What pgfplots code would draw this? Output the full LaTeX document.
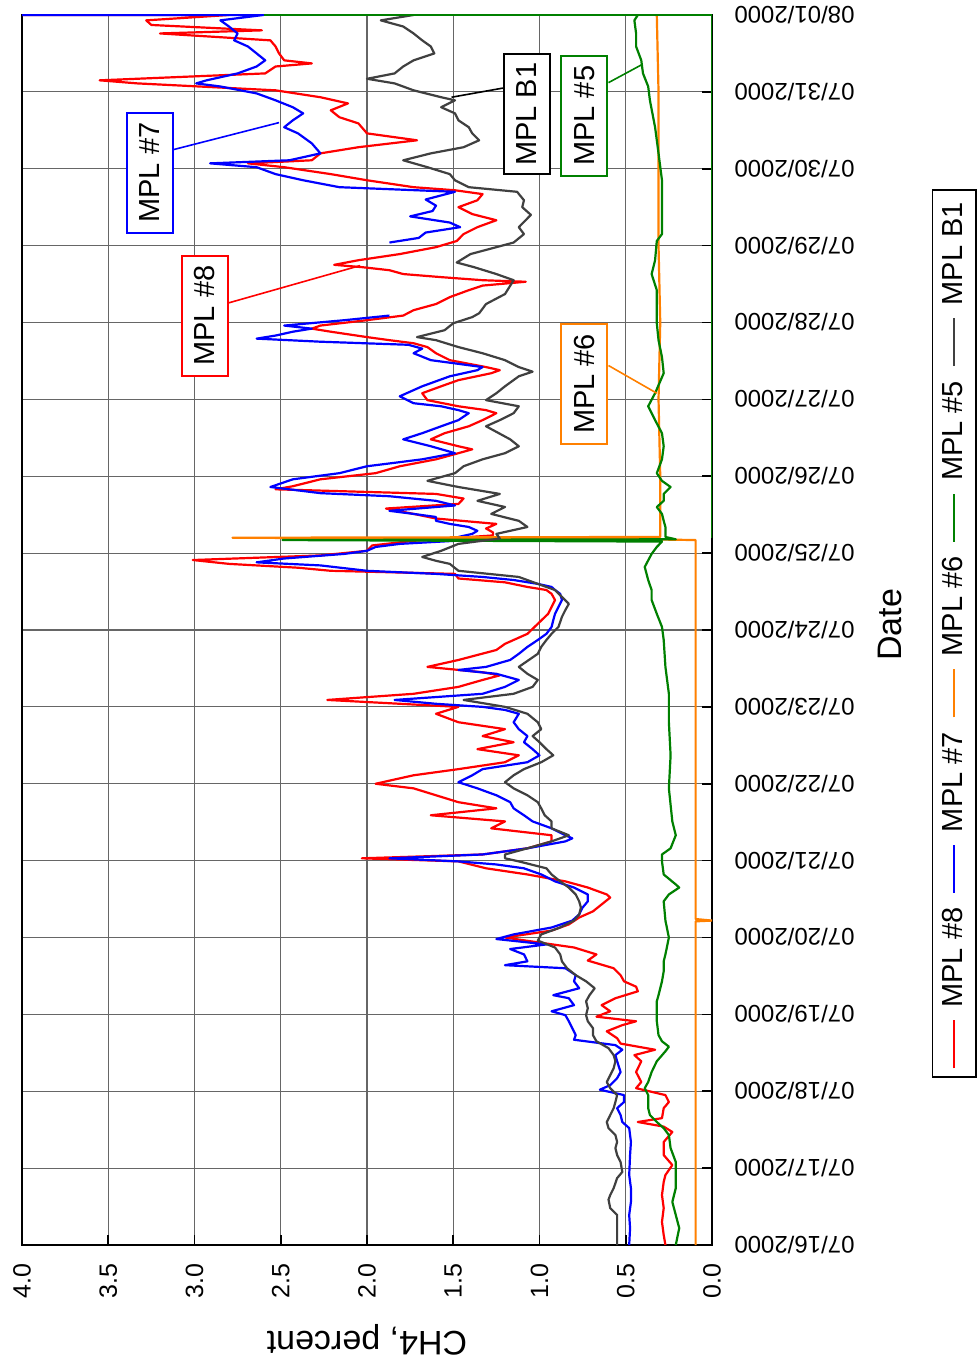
\documentclass[border=0pt]{standalone}
\usepackage{pgfplots}
\pgfplotsset{compat=1.18}
\usepackage{fontspec}
\setmainfont{Liberation Sans}
\definecolor{c8}{RGB}{255,0,0}
\definecolor{c7}{RGB}{0,0,255}
\definecolor{c6}{RGB}{255,128,0}
\definecolor{c5}{RGB}{0,128,0}
\definecolor{cb1}{RGB}{64,64,64}
\begin{document}
\begin{tikzpicture}[rotate=90, transform shape]
\begin{axis}[
 at={(0,0)}, anchor=south west,
 width=615pt, height=345pt, scale only axis,
 xmin=0, xmax=16, ymin=0, ymax=4,
 xtick={0,1,2,3,4,5,6,7,8,9,10,11,12,13,14,15,16},
 xticklabels={07/16/2000,07/17/2000,07/18/2000,07/19/2000,07/20/2000,07/21/2000,07/22/2000,07/23/2000,07/24/2000,07/25/2000,07/26/2000,07/27/2000,07/28/2000,07/29/2000,07/30/2000,07/31/2000,08/01/2000},
 ytick={0,0.5,1,1.5,2,2.5,3,3.5,4},
 /pgf/number format/assume math mode=true,
 yticklabel style={/pgf/number format/fixed, /pgf/number format/fixed zerofill, /pgf/number format/precision=1, inner sep=0pt, font=\fontsize{12.5}{15}\selectfont},
 xticklabel style={rotate=90, anchor=east, inner sep=0pt, font=\fontsize{12}{14}\selectfont},
 xticklabel shift=11pt, yticklabel shift=9pt,
 xtick pos=bottom, ytick pos=left,
 tick align=inside, major tick length=5pt,
 tick style={black, line width=0.8pt},
 grid=major,
 major grid style={gray!80!black, line width=0.55pt},
 axis line style={black, line width=1.1pt},
 unbounded coords=jump,
 every axis plot/.append style={line width=1.1pt, line join=round},
 legend columns=5,
 legend style={at={(axis description cs:0.497,-0.351)}, anchor=center, draw=black, line width=0.8pt,
   font=\fontsize{14.5}{17}\selectfont, inner xsep=4pt, inner ysep=3pt,
   /tikz/every even column/.append style={column sep=5pt},
   /tikz/every odd column/.append style={column sep=4pt}},
 legend image code/.code={\draw[#1, line width=0.8pt] (0pt,0pt) -- (24pt,0pt);},
]
\addplot[c8] coordinates {(0,0.27)(0.13,0.28)(0.30,0.29)(0.48,0.28)(0.65,0.29)(0.82,0.28)(0.91,0.27)(1.04,0.23)(1.17,0.28)(1.34,0.28)(1.47,0.23)(1.54,0.28)(1.60,0.43)(1.65,0.29)(1.78,0.28)(1.86,0.25)(1.95,0.27)(2.04,0.44)(2.12,0.41)(2.25,0.44)(2.39,0.41)(2.47,0.45)(2.54,0.33)(2.58,0.43)(2.62,0.53)(2.69,0.55)(2.78,0.61)(2.86,0.52)(2.91,0.44)(2.97,0.67)(3.04,0.59)(3.12,0.64)(3.21,0.56)(3.30,0.43)(3.36,0.44)(3.43,0.51)(3.51,0.53)(3.60,0.57)(3.70,0.72)(3.78,0.67)(3.87,0.80)(3.96,1.08)(4.00,1.20)(4.09,0.93)(4.17,0.83)(4.26,0.77)(4.34,0.69)(4.43,0.64)(4.52,0.59)(4.56,0.61)(4.65,0.72)(4.73,0.85)(4.82,1.07)(4.90,1.31)(4.99,1.47)(5.03,2.03)(5.08,1.33)(5.16,1.07)(5.25,0.93)(5.33,0.93)(5.42,1.28)(5.51,1.20)(5.59,1.63)(5.68,1.25)(5.76,1.47)(5.85,1.60)(5.94,1.73)(6.00,1.95)(6.11,1.73)(6.19,1.47)(6.28,1.20)(6.37,1.12)(6.45,1.36)(6.54,1.15)(6.62,1.33)(6.71,1.20)(6.80,1.47)(6.91,1.60)(7.00,1.47)(7.09,2.23)(7.17,1.73)(7.26,1.47)(7.35,1.33)(7.41,1.23)(7.45,1.33)(7.52,1.65)(7.61,1.47)(7.74,1.25)(7.82,1.20)(7.95,1.07)(8.08,1.01)(8.21,0.95)(8.30,0.93)(8.39,0.91)(8.47,0.93)(8.52,0.96)(8.56,1.07)(8.62,1.20)(8.67,1.47)(8.73,1.49)(8.77,2.21)(8.81,2.40)(8.86,2.80)(8.91,3.01)(8.97,2.27)(9.03,2.00)(9.10,1.97)(9.16,1.73)(9.23,1.27)(9.27,1.27)(9.32,1.31)(9.38,1.25)(9.45,1.60)(9.51,1.73)(9.58,1.89)(9.64,1.47)(9.71,1.44)(9.77,1.60)(9.83,2.53)(9.87,2.43)(9.96,2.27)(10.04,1.95)(10.13,1.81)(10.22,1.60)(10.30,1.47)(10.35,1.39)(10.39,1.47)(10.48,1.63)(10.56,1.55)(10.65,1.41)(10.73,1.33)(10.82,1.25)(10.86,1.31)(10.91,1.47)(10.99,1.65)(11.08,1.68)(11.17,1.57)(11.25,1.47)(11.34,1.28)(11.38,1.23)(11.42,1.31)(11.51,1.52)(11.60,1.60)(11.68,1.65)(11.73,1.73)(11.77,1.87)(11.81,2.00)(11.88,2.21)(11.92,2.32)(11.96,2.27)(12.03,2.00)(12.09,1.79)(12.16,1.73)(12.24,1.60)(12.33,1.52)(12.42,1.41)(12.48,1.33)(12.53,1.08)(12.55,1.33)(12.59,1.57)(12.63,1.79)(12.68,1.87)(12.72,2.03)(12.75,2.19)(12.81,2.05)(12.89,1.81)(12.98,1.60)(13.06,1.48)(13.15,1.44)(13.24,1.36)(13.33,1.25)(13.41,1.39)(13.50,1.47)(13.59,1.36)(13.67,1.33)(13.72,1.49)(13.76,1.73)(13.85,2.00)(13.93,2.21)(14.02,2.48)(14.07,2.69)(14.11,2.32)(14.20,2.27)(14.28,2.05)(14.37,1.71)(14.46,2.00)(14.59,2.05)(14.67,2.16)(14.76,2.21)(14.85,2.11)(14.93,2.27)(15.02,2.53)(15.11,3.33)(15.15,3.55)(15.24,2.59)(15.33,2.53)(15.37,2.32)(15.41,2.48)(15.50,2.51)(15.59,2.53)(15.67,2.56)(15.76,3.20)(15.80,2.61)(15.87,3.25)(15.93,3.28)(16.00,2.80)(16.00,4.10)};
\addlegendentry{MPL \#8}
\addplot[c7] coordinates {(0,0.48)(0.22,0.475)(0.39,0.48)(0.56,0.47)(0.74,0.47)(0.91,0.48)(1.17,0.475)(1.34,0.47)(1.52,0.48)(1.60,0.52)(1.69,0.53)(1.78,0.55)(1.86,0.51)(1.95,0.51)(2.02,0.65)(2.08,0.59)(2.17,0.55)(2.25,0.53)(2.39,0.55)(2.47,0.56)(2.54,0.52)(2.60,0.56)(2.67,0.80)(2.73,0.79)(2.82,0.81)(2.91,0.83)(2.99,0.85)(3.04,0.93)(3.12,0.80)(3.21,0.83)(3.25,0.92)(3.34,0.77)(3.43,0.80)(3.51,0.79)(3.60,0.85)(3.64,1.20)(3.69,1.07)(3.78,1.09)(3.85,1.17)(3.91,0.96)(3.98,1.25)(4.04,1.15)(4.13,0.93)(4.22,0.81)(4.30,0.77)(4.39,0.75)(4.47,0.72)(4.56,0.72)(4.65,0.80)(4.73,0.91)(4.82,0.99)(4.90,1.09)(4.95,1.25)(4.99,1.47)(5.03,1.87)(5.08,1.33)(5.16,1.07)(5.25,0.85)(5.29,0.81)(5.33,0.85)(5.42,0.93)(5.51,1.04)(5.59,1.09)(5.68,1.15)(5.76,1.17)(5.85,1.25)(5.94,1.36)(6.02,1.47)(6.11,1.39)(6.19,1.33)(6.28,1.07)(6.37,1.00)(6.45,1.04)(6.54,1.09)(6.62,1.07)(6.71,1.12)(6.80,1.15)(6.91,1.12)(6.96,1.20)(7.00,1.33)(7.04,1.60)(7.09,1.84)(7.17,1.33)(7.26,1.20)(7.35,1.12)(7.43,1.25)(7.48,1.47)(7.52,1.31)(7.61,1.17)(7.69,1.12)(7.78,1.07)(7.87,1.01)(7.95,0.96)(8.04,0.93)(8.13,0.92)(8.21,0.91)(8.30,0.89)(8.39,0.87)(8.47,0.88)(8.52,0.91)(8.56,0.93)(8.60,1.01)(8.65,1.15)(8.69,1.33)(8.73,1.60)(8.77,2.00)(8.84,2.27)(8.88,2.64)(8.93,2.48)(8.99,2.13)(9.03,2.00)(9.08,1.95)(9.12,1.81)(9.16,1.49)(9.21,1.47)(9.25,1.39)(9.29,1.36)(9.34,1.41)(9.38,1.52)(9.42,1.60)(9.47,1.60)(9.51,1.73)(9.55,1.87)(9.62,1.49)(9.68,1.60)(9.74,1.87)(9.78,2.27)(9.86,2.56)(9.96,2.43)(10.04,2.16)(10.13,2.00)(10.22,1.68)(10.30,1.49)(10.39,1.63)(10.48,1.79)(10.56,1.68)(10.65,1.57)(10.73,1.47)(10.82,1.41)(10.86,1.47)(10.91,1.57)(10.95,1.73)(11.04,1.81)(11.17,1.68)(11.30,1.52)(11.38,1.36)(11.42,1.33)(11.51,1.63)(11.60,1.73)(11.66,1.68)(11.71,1.76)(11.75,2.27)(11.79,2.64)(11.83,2.53)(11.88,2.43)(11.92,2.32)(11.96,2.48)(12.03,2.13)(12.09,1.87)(12.5,nan)(13.04,1.87)(13.10,1.70)(13.17,1.66)(13.24,1.46)(13.30,1.52)(13.38,1.75)(13.45,1.62)(13.52,1.60)(13.60,1.66)(13.70,1.49)(13.76,2.16)(13.85,2.37)(13.93,2.53)(14.02,2.64)(14.07,2.91)(14.11,2.45)(14.20,2.27)(14.33,2.32)(14.46,2.40)(14.54,2.48)(14.63,2.43)(14.72,2.37)(14.80,2.43)(14.89,2.53)(14.98,2.64)(15.07,2.85)(15.11,2.99)(15.15,2.93)(15.24,2.75)(15.33,2.64)(15.41,2.59)(15.50,2.64)(15.59,2.69)(15.67,2.77)(15.76,2.75)(15.85,2.80)(15.93,2.85)(16.00,2.60)(16.00,4.10)};
\addlegendentry{MPL \#7}
\addplot[c6] coordinates {(0,0.095)(4.21,0.095)(4.22,0)(4.24,0.095)(9.17,0.095)(9.18,0.40)(9.20,2.78)(9.21,0.30)(10,0.30)(11,0.31)(12,0.30)(13,0.31)(14,0.31)(15,0.31)(16,0.32)};
\addlegendentry{MPL \#6}
\addplot[c5] coordinates {(0,0.21)(0.22,0.19)(0.39,0.21)(0.56,0.23)(0.74,0.21)(0.91,0.21)(1.08,0.21)(1.26,0.24)(1.43,0.25)(1.52,0.28)(1.60,0.32)(1.69,0.36)(1.78,0.37)(1.95,0.37)(2.04,0.39)(2.12,0.37)(2.25,0.35)(2.39,0.32)(2.52,0.27)(2.58,0.25)(2.65,0.29)(2.73,0.31)(2.91,0.32)(3.04,0.32)(3.17,0.32)(3.25,0.31)(3.43,0.29)(3.56,0.28)(3.69,0.28)(3.78,0.27)(4.00,0.25)(4.22,0.27)(4.47,0.28)(4.56,0.25)(4.65,0.19)(4.69,0.21)(4.82,0.28)(4.99,0.29)(5.08,0.29)(5.16,0.24)(5.33,0.21)(5.51,0.23)(5.94,0.25)(6.37,0.24)(6.80,0.25)(7.17,0.25)(7.52,0.27)(7.87,0.28)(8.04,0.29)(8.21,0.32)(8.39,0.35)(8.52,0.35)(8.65,0.37)(8.82,0.39)(8.99,0.35)(9.08,0.32)(9.15,0.29)(9.17,2.49)(9.18,0.21)(9.21,0.27)(9.34,0.27)(9.42,0.28)(9.51,0.29)(9.60,0.32)(9.68,0.28)(9.77,0.28)(9.86,0.24)(9.94,0.29)(10.04,0.32)(10.22,0.29)(10.39,0.28)(10.56,0.29)(10.73,0.33)(10.91,0.37)(11.08,0.33)(11.34,0.28)(11.55,0.29)(11.77,0.31)(11.99,0.32)(12.20,0.32)(12.42,0.32)(12.63,0.35)(12.81,0.33)(13.06,0.32)(13.15,0.29)(13.50,0.29)(13.85,0.29)(14.20,0.31)(14.54,0.33)(14.89,0.36)(15.07,0.37)(15.24,0.40)(15.41,0.41)(15.59,0.44)(15.76,0.44)(15.93,0.45)(16.00,0.43)};
\addlegendentry{MPL \#5}
\addplot[cb1] coordinates {(0,0.55)(0.39,0.55)(0.48,0.59)(0.59,0.60)(0.65,0.59)(0.74,0.57)(0.87,0.55)(0.95,0.52)(1.08,0.53)(1.17,0.55)(1.26,0.56)(1.34,0.55)(1.43,0.56)(1.52,0.60)(1.60,0.61)(1.69,0.59)(1.78,0.57)(1.86,0.56)(1.95,0.55)(2.04,0.59)(2.12,0.61)(2.21,0.59)(2.30,0.57)(2.39,0.56)(2.47,0.57)(2.56,0.60)(2.65,0.67)(2.73,0.69)(2.82,0.69)(2.91,0.72)(2.99,0.73)(3.08,0.72)(3.17,0.73)(3.25,0.71)(3.34,0.68)(3.43,0.73)(3.51,0.79)(3.60,0.84)(3.69,0.87)(3.78,0.88)(3.87,0.91)(3.96,1.01)(4.04,0.99)(4.13,0.88)(4.22,0.80)(4.30,0.77)(4.39,0.76)(4.47,0.77)(4.56,0.79)(4.65,0.83)(4.73,0.88)(4.82,0.93)(4.90,0.96)(4.99,1.12)(5.03,1.20)(5.08,1.20)(5.16,1.07)(5.25,0.93)(5.33,0.83)(5.42,0.93)(5.51,0.93)(5.59,0.97)(5.68,0.99)(5.76,1.01)(5.85,1.07)(5.94,1.15)(6.02,1.20)(6.11,1.15)(6.19,1.09)(6.28,0.99)(6.37,0.92)(6.45,0.96)(6.54,1.00)(6.62,1.04)(6.71,0.99)(6.80,1.01)(6.91,1.07)(7.00,1.20)(7.09,1.44)(7.17,1.15)(7.26,1.04)(7.35,1.01)(7.43,1.07)(7.52,1.12)(7.69,1.01)(7.78,0.99)(7.87,0.96)(7.95,0.93)(8.04,0.89)(8.17,0.87)(8.26,0.85)(8.34,0.83)(8.43,0.87)(8.52,0.91)(8.60,1.01)(8.69,1.12)(8.77,1.47)(8.86,1.52)(8.90,1.60)(8.95,1.68)(9.03,1.57)(9.12,1.47)(9.19,1.23)(9.25,1.25)(9.34,1.07)(9.42,1.12)(9.51,1.28)(9.60,1.20)(9.68,1.36)(9.77,1.23)(9.86,1.47)(9.94,1.65)(10.04,1.49)(10.13,1.44)(10.22,1.33)(10.30,1.20)(10.39,1.12)(10.48,1.17)(10.65,1.31)(10.73,1.23)(10.82,1.15)(10.91,1.12)(10.99,1.31)(11.08,1.25)(11.17,1.20)(11.30,1.12)(11.36,1.04)(11.42,1.12)(11.51,1.20)(11.60,1.33)(11.68,1.47)(11.77,1.60)(11.81,1.71)(11.90,1.55)(11.99,1.50)(12.07,1.39)(12.12,1.35)(12.24,1.31)(12.37,1.20)(12.55,1.15)(12.63,1.25)(12.72,1.38)(12.78,1.48)(12.89,1.40)(12.98,1.25)(13.04,1.15)(13.15,1.09)(13.24,1.12)(13.40,1.05)(13.50,1.10)(13.59,1.09)(13.70,1.13)(13.76,1.41)(13.85,1.49)(13.93,1.52)(14.02,1.65)(14.11,1.79)(14.20,1.63)(14.28,1.44)(14.37,1.35)(14.46,1.39)(14.54,1.41)(14.63,1.47)(14.72,1.49)(14.80,1.57)(14.89,1.49)(14.93,1.57)(15.02,1.73)(15.11,1.84)(15.17,2.00)(15.24,1.84)(15.33,1.79)(15.41,1.73)(15.50,1.61)(15.59,1.63)(15.67,1.68)(15.76,1.73)(15.85,1.79)(15.93,1.92)(16.00,1.73)};
\addlegendentry{MPL B1}
\addplot[c5, forget plot] coordinates {(9.2,0)(16,0)(16,2.6)};
% annotations
\draw[c7, line width=0.8pt] (axis cs:14.25,3.12) -- (axis cs:14.6,2.51);
\draw[c8, line width=0.8pt] (axis cs:12.25,2.81) -- (axis cs:12.74,2.04);
\draw[black, line width=0.8pt] (axis cs:15.05,1.21) -- (axis cs:14.93,1.51);
\draw[c5, line width=0.8pt] (axis cs:15.12,0.60) -- (axis cs:15.35,0.41);
\draw[c6, line width=0.8pt] (axis cs:11.44,0.60) -- (axis cs:11.08,0.32);
\tikzset{ann/.style={fill=white, line width=1pt, minimum width=60pt, minimum height=23pt, inner sep=2pt, font=\fontsize{14.5}{17}\selectfont}}
\node[ann, draw=c7] at (axis cs:13.95,3.26) {MPL \#7};
\node[ann, draw=c8] at (axis cs:12.09,2.94) {MPL \#8};
\node[ann, draw=black] at (axis cs:14.71,1.075) {MPL B1};
\node[ann, draw=c5] at (axis cs:14.69,0.74) {MPL \#5};
\node[ann, draw=c6] at (axis cs:11.2,0.74) {MPL \#6};
\end{axis}
\node[font=\fontsize{17}{20}\selectfont] at (310pt,-89pt) {Date};
\node[rotate=90, font=\fontsize{17}{20}\selectfont] at (-47.5pt,172.5pt) {CH4, percent};
\pgfresetboundingbox
\path (-62.5pt,-133.5pt) rectangle (622.5pt,356pt);
\end{tikzpicture}
\end{document}
